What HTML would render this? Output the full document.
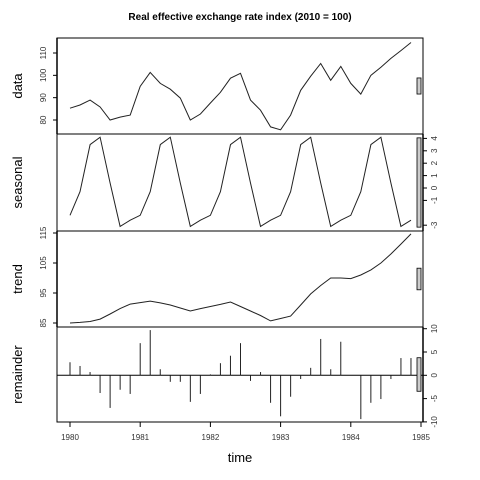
<!DOCTYPE html>
<html><head><meta charset="utf-8"><style>
html,body{margin:0;padding:0;background:#fff;}
svg{display:block;font-family:"Liberation Sans",sans-serif;}
</style></head><body>
<svg id="c" width="480" height="480" viewBox="0 0 480 480">
<text x="240" y="20" text-anchor="middle" font-size="10" font-weight="bold">Real effective exchange rate index (2010 = 100)</text>
<g id="g"></g>
</svg>
<script>
const years = [1980,1981,1982,1983,1984,1985];
const dataValues = [85.3,86.7,88.9,85.8,80,81.3,82.2,95.1,101.3,96.4,93.8,89.8,80,82.7,87.6,92.4,98.7,100.9,88.9,84.4,76.9,75.6,82.2,93.3,99.6,105.3,97.8,104,96.4,91.6,100,103.6,107.6,111.1,114.7];
const seasonalPattern = [-2.2,-0.3,3.5,4.1,0.4,-3.1,-2.6];
const trendValues = [85,85.2,85.5,86.3,88,89.8,91.3,91.8,92.3,91.7,91,90,89,89.8,90.5,91.2,92,90.5,89,87.5,85.7,86.5,87.3,91,94.7,97.5,100,100,99.8,101,102.7,105,108,111.3,114.7];
const remainderValues = [2.8,2,0.7,-3.8,-7,-3.1,-4,6.9,9.7,1.3,-1.4,-1.4,-5.7,-4,0.2,2.6,4.2,6.9,-1.2,0.7,-5.9,-8.8,-4.6,-0.8,1.6,7.8,1.3,7.2,0,-9.4,-5.9,-5.1,-0.8,3.7,3.7];
const dataTicks = [80,90,100,110];
const seasonalTicks = [-3,-1,0,1,2,3,4];
const trendTicks = [85,95,105,115];
const remainderTicks = [-10,-5,0,5,10];
const freq = 7, startYear = 1980;

const NS="http://www.w3.org/2000/svg";
const g=document.getElementById('g');
function el(t,a,p){const e=document.createElementNS(NS,t);for(const k in a)e.setAttribute(k,a[k]);(p||g).appendChild(e);return e;}
const L=57,R=423;
const xs=t=>70+(t-1980)*70.2;
const tAt=i=>startYear+i/freq;
const panels=[
 {name:'data',top:38,bot:134,scale:v=>120-(v-80)*2.233,ticks:dataTicks,side:'left',vals:dataValues,type:'line'},
 {name:'seasonal',top:134,bot:231,scale:v=>188-v*12.4,ticks:seasonalTicks,side:'right',vals:dataValues.map((_,i)=>seasonalPattern[i%freq]),type:'line'},
 {name:'trend',top:231,bot:327,scale:v=>323-(v-85)*3,ticks:trendTicks,side:'left',vals:trendValues,type:'line'},
 {name:'remainder',top:327,bot:422,scale:v=>375.3-v*4.66,ticks:remainderTicks,side:'right',vals:remainderValues,type:'bar'}
];
const barRange=Math.max(...seasonalPattern)-Math.min(...seasonalPattern);
panels.forEach(p=>{
  const r=el('rect',{x:L,y:p.top,width:R-L,height:p.bot-p.top,fill:'none',stroke:'#000','stroke-width':1});
  
  
  if(p.type==='line'){
    const pts=p.vals.map((v,i)=>xs(tAt(i)).toFixed(1)+','+p.scale(v).toFixed(1)).join(' ');
    const l=el('polyline',{points:pts,fill:'none',stroke:'#222','stroke-width':1});
    
    
  } else {
    const z=el('line',{x1:L,x2:R,y1:p.scale(0),y2:p.scale(0),stroke:'#000','stroke-width':1});
    
    
    p.vals.forEach((v,i)=>{
      const x=xs(tAt(i));
      const b=el('line',{x1:x,x2:x,y1:p.scale(0),y2:p.scale(v),stroke:'#222','stroke-width':1});
      
      
    });
  }
  // ticks
  const ax=p.side==='left'?L:R, dir=p.side==='left'?-1:1;
  const axl=el('line',{x1:ax,x2:ax,y1:p.top,y2:p.bot,stroke:'#000','stroke-width':1.5});
  
  
  p.ticks.forEach(t=>{
    const y=p.scale(t);
    el('line',{x1:ax,x2:ax+dir*4,y1:y,y2:y,stroke:'#000'});
    const tx=ax+dir*(p.side==='left'?11:14);
    const lab=el('text',{x:tx,y:y,'font-size':8,fill:'#333','text-anchor':'middle',transform:`rotate(-90 ${tx} ${y})`});
    lab.textContent=t;
    
    
  });
  // range bar
  const mid=(p.top+p.bot)/2, h=Math.abs(p.scale(0)-p.scale(barRange));
  const rb=el('rect',{x:417,y:mid-h/2,width:4,height:h,fill:'#ccc',stroke:'#000','stroke-width':0.8});
  
  
  // title
  const tyx=22;
  const tt=el('text',{x:tyx,y:mid,'font-size':13,'text-anchor':'middle',transform:`rotate(-90 ${tyx} ${mid})`});
  tt.textContent=p.name;
  
  
});
years.forEach(yr=>{
  const x=xs(yr);
  el('line',{x1:x,x2:x,y1:422,y2:427,stroke:'#000'});
  const t=el('text',{x:x,y:440,'font-size':8,'text-anchor':'middle',fill:'#333'});
  t.textContent=yr;
  
  
});
const xt=el('text',{x:240,y:462,'font-size':13,'text-anchor':'middle'});
xt.textContent='time';


</script>
</body></html>
